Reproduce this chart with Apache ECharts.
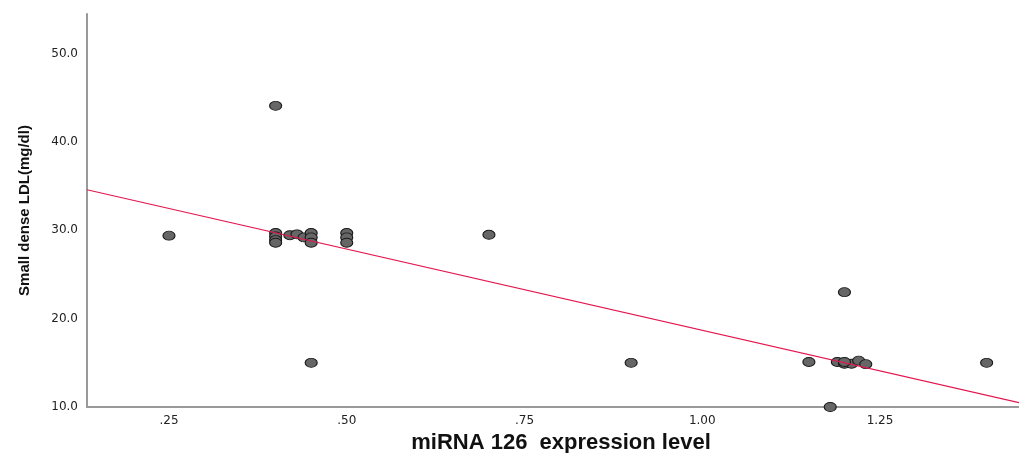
<!DOCTYPE html>
<html>
<head>
    <meta charset="utf-8">
    <title>miRNA 126 vs sdLDL</title>
    <script src="https://cdn.jsdelivr.net/npm/echarts@6/dist/echarts.min.js"></script>
    <style>
        html, body { margin: 0; padding: 0; background: #fff; }
    </style>
</head>
<body>
    <div id="main" style="width: 1019px;height:453px;"></div>
    <script type="text/javascript">
        // scatter values
        var mirna = [0.25, 0.40, 0.40, 0.40, 0.40, 0.40, 0.42, 0.43, 0.44, 0.45, 0.45, 0.45, 0.45,
            0.50, 0.50, 0.50, 0.70, 0.90, 1.15, 1.18, 1.20, 1.19, 1.20, 1.21, 1.22, 1.23, 1.20, 1.40];
        var sdldl = [29.4, 44.1, 29.7, 29.3, 28.9, 28.6, 29.45, 29.55, 29.2, 29.7, 29.2, 28.6, 15.0,
            29.7, 29.2, 28.6, 29.5, 15.0, 15.1, 10.0, 23.0, 15.1, 14.9, 14.9, 15.25, 14.85, 15.1, 15.0];
        // fit line end points
        var fitX = [0.1347, 1.4455];
        var fitY = [34.6, 10.5];
        var xTicks = [0.25, 0.50, 0.75, 1.00, 1.25];
        var yTicks = [10, 20, 30, 40, 50];

        var points = mirna.map(function (v, i) { return [v, sdldl[i]]; });
        var fit = fitX.map(function (v, i) { return [v, fitY[i]]; });

        var myChart = echarts.init(document.getElementById('main'));
        var option = {
            backgroundColor: '#ffffff',
            animation: false,
            grid: { left: 87, right: 0, top: 14, bottom: 46, outerBoundsMode: 'none' },
            xAxis: {
                type: 'value', min: 0.1347, max: 1.4455,
                name: 'miRNA 126  expression level', nameLocation: 'middle', nameGap: 25,
                nameTextStyle: { fontFamily: 'Liberation Sans, Arial, sans-serif', fontSize: 22, fontWeight: 'bold', color: '#111', padding: [0, 0, 0, 16] },
                splitLine: { show: false },
                axisTick: { show: false },
                axisLine: { lineStyle: { color: '#999', width: 2 } },
                axisLabel: {
                    customValues: xTicks, margin: 8, fontSize: 12, color: '#222',
                    fontFamily: 'DejaVu Sans, sans-serif',
                    formatter: function (v) { var s = v.toFixed(2); return v < 1 ? s.slice(1) : s; }
                }
            },
            yAxis: {
                type: 'value', min: 10, max: 54.5,
                name: 'Small dense LDL(mg/dl)', nameLocation: 'middle', nameGap: 55,
                nameTextStyle: { fontFamily: 'Liberation Sans, Arial, sans-serif', fontSize: 15, fontWeight: 'bold', color: '#111' },
                splitLine: { show: false },
                axisTick: { show: false },
                axisLine: { lineStyle: { color: '#999', width: 2 } },
                axisLabel: {
                    customValues: yTicks, margin: 9, fontSize: 12, color: '#222',
                    fontFamily: 'DejaVu Sans, sans-serif',
                    formatter: function (v) { return v.toFixed(1); }
                }
            },
            series: [{
                type: 'line', data: fit, symbol: 'none', silent: true, z: 3,
                lineStyle: { color: '#e3174f', width: 1.2 }
            }, {
                type: 'scatter', data: points, clip: true, z: 2,
                symbol: 'path://M0,50 A50,50 0 1,1 100,50 A50,50 0 1,1 0,50 Z',
                symbolSize: [12, 9],
                itemStyle: { color: '#666666', borderColor: '#1a1a1a', borderWidth: 1, opacity: 1 }
            }]
        };
        myChart.setOption(option);
    </script>
</body>
</html>
